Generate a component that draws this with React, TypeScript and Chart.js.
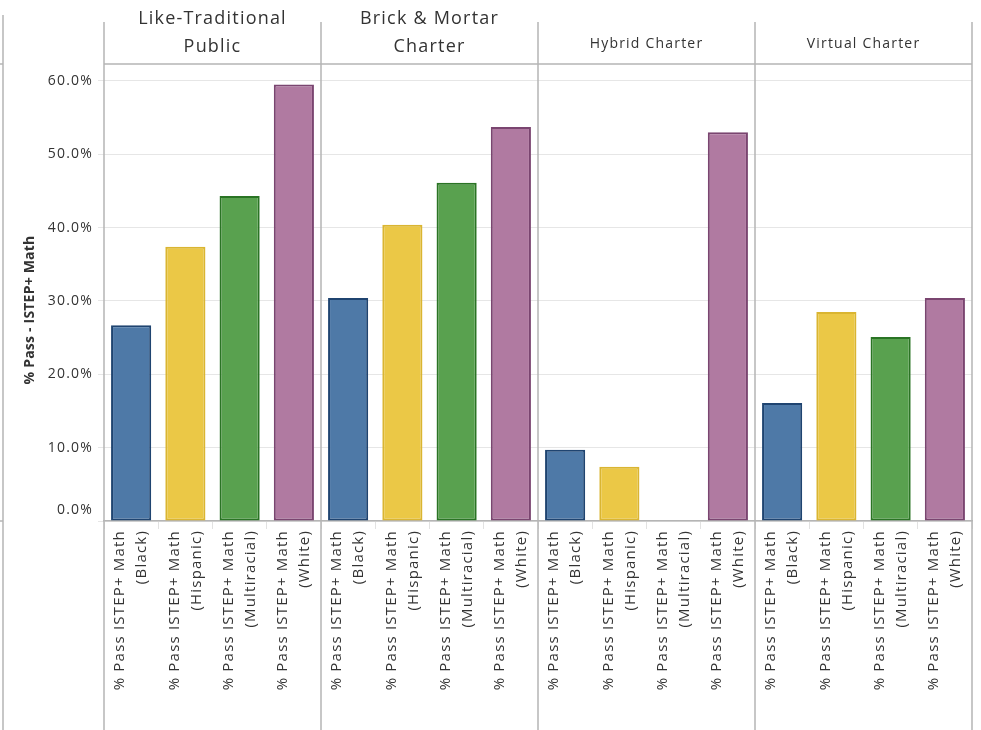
import React, { useEffect, useRef } from "react";
import { Chart, registerables } from "chart.js";

Chart.register(...registerables);

// ---- data ----
const panelTitles: string[][] = [
  ["Like-Traditional", "Public"],
  ["Brick & Mortar", "Charter"],
  ["Hybrid Charter"],
  ["Virtual Charter"],
];
const groups = ["Black", "Hispanic", "Multiracial", "White"];
const measureName = "% Pass ISTEP+ Math";
const likeTraditionalPublic = [26.7, 37.4, 44.3, 59.5];
const brickMortarCharter = [30.4, 40.4, 46.1, 53.7];
const hybridCharter = [9.7, 7.4, null, 53.0];
const virtualCharter = [16.1, 28.5, 25.1, 30.4];
const yTickValues = [0, 10, 20, 30, 40, 50, 60];
const yAxisTitle = "% Pass - ISTEP+ Math";

// ---- styles ----
const groupFill = ["#4e79a7", "#ebc846", "#59a14f", "#b07aa1"];
const groupBorder = ["#1f4470", "#dab531", "#2a7424", "#7a4570"];
const panelTitleSizes = [18, 18, 14, 14];
const FONT = "'Open Sans', 'Noto Sans', sans-serif";
const LINE = "#b5b5b5";
const TEXT = "#333333";

const panelValues = [likeTraditionalPublic, brickMortarCharter, hybridCharter, virtualCharter];
const labels = panelValues.flatMap(() => groups.map((g) => [measureName, `(${g})`]));
const values = panelValues.flat();
const fills = panelValues.flatMap(() => groupFill);
const borders = panelValues.flatMap(() => groupBorder);

const facetPlugin = {
  id: "facets",
  beforeDraw(chart: any) {
    chart.ctx.letterSpacing = "1.2px";
  },
  afterDraw(chart: any) {
    const { ctx, chartArea } = chart;
    const x = chart.scales.x;
    const n = groups.length;
    ctx.save();
    ctx.strokeStyle = LINE;
    ctx.lineWidth = 1.5;
    // panel separators
    const edges: number[] = [];
    for (let p = 0; p <= panelTitles.length; p++) {
      edges.push(x.getPixelForValue(p * n - 0.5));
    }
    ctx.beginPath();
    edges.forEach((px) => {
      ctx.moveTo(Math.round(px), chartArea.top - 42);
      ctx.lineTo(Math.round(px), chart.height);
    });
    ctx.stroke();
    // header bottom line
    ctx.beginPath();
    ctx.moveTo(edges[0], chartArea.top);
    ctx.lineTo(edges[edges.length - 1], chartArea.top);
    ctx.stroke();
    // far-left frame line
    ctx.beginPath();
    ctx.moveTo(3, chartArea.top - 49);
    ctx.lineTo(3, chart.height);
    ctx.moveTo(0, chartArea.top);
    ctx.lineTo(3, chartArea.top);
    ctx.moveTo(0, chartArea.bottom);
    ctx.lineTo(3, chartArea.bottom);
    ctx.stroke();

    // headers
    ctx.fillStyle = TEXT;
    ctx.textAlign = "center";
    ctx.textBaseline = "middle";
    panelTitles.forEach((lines, p) => {
      const cx = (edges[p] + edges[p + 1]) / 2;
      ctx.font = `${panelTitleSizes[p]}px ${FONT}`;
      if (lines.length === 2) {
        ctx.fillText(lines[0], cx, chartArea.top - 45);
        ctx.fillText(lines[1], cx, chartArea.top - 17);
      } else {
        ctx.fillText(lines[0], cx, chartArea.top - 20);
      }
    });

    // y axis title
    ctx.font = `bold 14px ${FONT}`;
    ctx.letterSpacing = "0.2px";
    ctx.translate(30, 310);
    ctx.rotate(-Math.PI / 2);
    ctx.fillText(yAxisTitle, 0, 0);
    ctx.restore();
    ctx.letterSpacing = "0px";
  },
};

export default function App() {
  const ref = useRef<HTMLCanvasElement>(null);
  useEffect(() => {
    document.body.style.margin = "0";
    const chart = new Chart(ref.current!, {
      type: "bar",
      data: {
        labels,
        datasets: [
          {
            data: values as any,
            backgroundColor: fills,
            borderColor: borders,
            borderWidth: 2,
            borderSkipped: false,
            barPercentage: 0.74,
            categoryPercentage: 1,
          },
        ],
      },
      options: {
        animation: false,
        responsive: true,
        maintainAspectRatio: false,
        layout: { padding: { top: 64, right: 9, left: 0, bottom: 0 } },
        plugins: { legend: { display: false }, tooltip: { enabled: false } },
        scales: {
          x: {
            type: "category",
            offset: true,
            grid: { display: true, drawOnChartArea: false, offset: true, tickLength: 8, color: "#e2e2e2", lineWidth: 1 },
            border: { display: true, color: LINE, width: 1.5 },
            ticks: {
              autoSkip: false,
              minRotation: 90,
              maxRotation: 90,
              padding: 1,
              labelOffset: -11,
              color: TEXT,
              font: { family: FONT, size: 15, lineHeight: 1.47 },
            },
            afterFit(s: any) {
              s.height = 209;
              s.paddingLeft = 0;
              s.paddingRight = 0;
            },
          },
          y: {
            min: 0,
            max: 62.3,
            afterBuildTicks(s: any) {
              s.ticks = yTickValues.map((v) => ({ value: v }));
            },
            grid: { color: "#e6e6e6", tickLength: 6, lineWidth: 1 },
            border: { display: false },
            ticks: {
              padding: 5,
              color: TEXT,
              font: { family: FONT, size: 14, lineHeight: 1.6 },
              callback: (v: any) => {
                const s = Number(v).toFixed(1) + "%";
                return Number(v) === 0 ? [s, ""] : s;
              },
            },
            afterFit(s: any) {
              s.width = 104;
              s.paddingTop = 0;
              s.paddingBottom = 0;
            },
          },
        },
      },
      plugins: [facetPlugin],
    });
    return () => chart.destroy();
  }, []);
  return (
    <div style={{ position: "fixed", left: 0, top: 0, width: 981, height: 730, background: "#fff" }}>
      <canvas ref={ref} />
    </div>
  );
}
